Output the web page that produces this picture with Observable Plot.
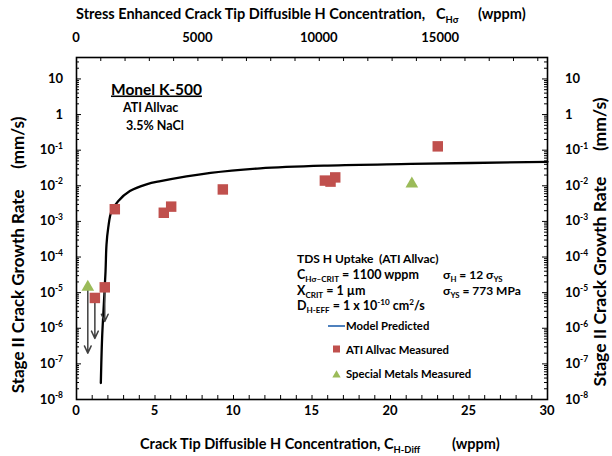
<!DOCTYPE html>
<html>
<head>
<meta charset="utf-8">
<script src="https://cdn.jsdelivr.net/npm/d3@7"></script>
<script src="https://cdn.jsdelivr.net/npm/@observablehq/plot@0.6"></script>
<style>
  body { margin: 0; background: #fff; }
  #chart svg { display: block; }
</style>
</head>
<body>
<div id="chart"></div>
<script>
// ---- Data ----
const atiX = [2.44, 5.56, 6.03, 9.32, 15.82, 16.18, 16.48, 23.01, 1.17, 1.80];
const atiY = [2.2e-3, 1.75e-3, 2.6e-3, 7.9e-3, 0.0140, 0.0131, 0.0172, 0.128, 7.1e-6, 1.41e-5];
const smX = [0.72, 21.36];
const smY = [1.44e-5, 0.0114];
const arrowX = [0.72, 1.17, 1.80];
const arrowFrom = [1.44e-5, 7.1e-6, 1.41e-5];
const arrowTo = [2.0e-7, 5.2e-7, 1.55e-6];
const modelX = [1.55, 1.63, 1.74, 1.85, 1.91, 2.02, 2.23, 2.65, 3.40, 4.46, 5.35, 8.54, 11.7, 16.0, 21.3, 30.0];
const modelY = [2.9e-8, 5.2e-7, 4.6e-6, 4.0e-5, 2.2e-4, 6.6e-4, 1.95e-3, 3.7e-3, 7.1e-3, 0.011, 0.0135, 0.023, 0.031, 0.037, 0.041, 0.047];
const bottomTickLabels = [0, 5, 10, 15, 20, 25, 30];
const topTickLabels = [0, 5000, 10000, 15000];
const topAxisMax = 19400;          // wppm at the right edge of the top axis
const yTickExponents = [1, 0, -1, -2, -3, -4, -5, -6, -7, -8];

// ---- Layout ----
const W = 612, H = 456;
const mL = 76, mR = 65, mT = 57, mB = 57;
const plotW = W - mL - mR, plotH = H - mT - mB;
const FONT = "Lato, 'Open Sans', 'DejaVu Sans', sans-serif";
const RED = "#C0504D", GREEN = "#9BBB59", BLUE = "#4F81BD";

const ati = atiX.map((x, i) => ({x, y: atiY[i]}));
const sm = smX.map((x, i) => ({x, y: smY[i]}));
const arrows = arrowX.map((x, i) => ({x, from: arrowFrom[i], to: arrowTo[i]}));
const model = modelX.map((x, i) => ({x, y: modelY[i]}));

const yMajor = yTickExponents.map(e => 10 ** e);
const yMinor = [];
for (let e = -8; e <= 1; e++) for (let m = 2; m <= 9; m++) { const v = m * 10 ** e; if (v <= 40) yMinor.push(v); }
const bottomMinor = d3.range(0, 31, 1);
const topMinor = d3.range(0, topAxisMax, 1000).map(v => v * 30 / topAxisMax);

const chart = Plot.plot({
  width: W, height: H,
  marginLeft: mL, marginRight: mR, marginTop: mT, marginBottom: mB,
  style: {fontFamily: FONT, background: "#fff", overflow: "visible"},
  x: {domain: [0, 30], axis: null},
  y: {type: "log", domain: [1e-8, 40], axis: null},
  marks: [
    Plot.tickX(bottomMinor, {x: d => d, insetTop: plotH - 4, stroke: "#000"}),
    Plot.tickX(topMinor, {x: d => d, insetBottom: plotH - 4, stroke: "#000"}),
    Plot.tickY(yMajor, {y: d => d, insetRight: plotW - 5, stroke: "#000"}),
    Plot.tickY(yMinor, {y: d => d, insetRight: plotW - 3, stroke: "#000"}),
    Plot.tickY(yMajor, {y: d => d, insetLeft: plotW - 5, stroke: "#000"}),
    Plot.tickY(yMinor, {y: d => d, insetLeft: plotW - 3, stroke: "#000"}),
    Plot.frame({stroke: "#000", strokeWidth: 1.6}),
    Plot.line(model, {x: "x", y: "y", stroke: "#000", strokeWidth: 2.3, curve: "catmull-rom"}),
    Plot.arrow(arrows, {x1: "x", y1: "from", x2: "x", y2: "to", stroke: "#404040", strokeWidth: 1.5, headLength: 8, headAngle: 50}),
    Plot.dot(ati, {x: "x", y: "y", symbol: "square", r: 5.9, fill: RED}),
    Plot.dot(sm, {x: "x", y: "y", symbol: "triangle", r: 4.7, fill: GREEN})
  ]
});
document.getElementById("chart").appendChild(chart);

// ---- Text with sub/superscripts, positioned through Plot's scales ----
const sx = chart.scale("x"), sy = chart.scale("y");
const svg = d3.select(chart);
const g = svg.append("g").attr("font-family", FONT).attr("fill", "#000");

function rich(x, y, parts, {size = 13, anchor = "start", weight = "bold", rotate = null} = {}) {
  const t = g.append("text").attr("x", x).attr("y", y).attr("font-size", size)
    .attr("font-weight", weight).attr("text-anchor", anchor).style("white-space", "pre");
  if (rotate !== null) t.attr("transform", `rotate(${rotate},${x},${y})`);
  let shift = 0;
  for (const p of parts) {
    const [s, kind] = Array.isArray(p) ? p : [p, null];
    const target = kind === "sub" ? size * 0.25 : kind === "sup" ? -size * 0.42 : 0;
    const ts = t.append("tspan").text(s).attr("dy", target - shift);
    if (kind) ts.attr("font-size", size * 0.65);
    shift = target;
  }
  return t;
}

function yLabelParts(e) {
  if (e === 1) return ["10"];
  if (e === 0) return ["1"];
  return ["10", [String(e), "sup"]];
}

// left & right y tick labels
for (const e of yTickExponents) {
  const py = sy.apply(10 ** e) + 4.5;
  rich(63, py, yLabelParts(e), {size: 13, anchor: "end"});
  rich(565, py, yLabelParts(e), {size: 13, anchor: "start"});
}
// bottom tick labels
for (const v of bottomTickLabels) rich(sx.apply(v), 415, [String(v)], {size: 13, anchor: "middle"});
// top tick labels
for (const v of topTickLabels) rich(sx.apply(v * 30 / topAxisMax), 42, [String(v)], {size: 13, anchor: "middle"});

// axis titles
rich(76, 19, ["Stress Enhanced Crack Tip Diffusible H Concentration,"], {size: 14.5});
rich(436, 19, ["C", ["H\u03C3", "sub"]], {size: 14.5});
rich(478, 19, ["(wppm)"], {size: 14.5});
rich(140, 449, ["Crack Tip Diffusible H Concentration, C", ["H-Diff", "sub"]], {size: 14.5});
rich(452, 449, ["(wppm)"], {size: 14.5});
rich(24, 255, ["Stage II Crack Growth Rate     (mm/s)"], {size: 17, anchor: "middle", rotate: -90});
rich(606, 242, ["Stage II Crack Growth Rate      (mm/s)"], {size: 17.5, anchor: "middle", rotate: -90});

// in-plot annotations
rich(111, 94.5, ["Monel K-500"], {size: 15.5}).attr("text-decoration", "underline");
rich(123, 112, ["ATI Allvac"], {size: 12.5});
rich(126, 130, ["3.5% NaCl"], {size: 12.5});

rich(297, 263, ["TDS H Uptake"], {size: 12});
rich(379, 263, ["(ATI Allvac)"], {size: 12});
rich(297, 279, ["C", ["H\u03C3\u2013CRIT", "sub"], " = 1100 wppm"], {size: 12.5});
rich(443, 279, ["\u03C3", ["H", "sub"], " = 12 \u03C3", ["YS", "sub"]], {size: 12});
rich(297, 295, ["X", ["CRIT", "sub"], " = 1 \u00B5m"], {size: 12.5});
rich(443, 295, ["\u03C3", ["YS", "sub"], " = 773 MPa"], {size: 12});
rich(297, 310, ["D", ["H-EFF", "sub"], " = 1 x 10", ["-10", "sup"], " cm", ["2", "sup"], "/s"], {size: 12.5});

// legend
g.append("line").attr("x1", 328).attr("x2", 345).attr("y1", 326).attr("y2", 326).attr("stroke", BLUE).attr("stroke-width", 2);
rich(346, 330, ["Model Predicted"], {size: 11.3});
g.append("rect").attr("x", 333).attr("y", 345.5).attr("width", 7).attr("height", 7).attr("fill", RED);
rich(346, 353.5, ["ATI Allvac Measured"], {size: 11.3});
g.append("path").attr("d", d3.symbol(d3.symbolTriangle, 30)()).attr("transform", "translate(336.5,375)").attr("fill", GREEN);
rich(346, 378, ["Special Metals Measured"], {size: 11.3});
</script>
</body>
</html>
